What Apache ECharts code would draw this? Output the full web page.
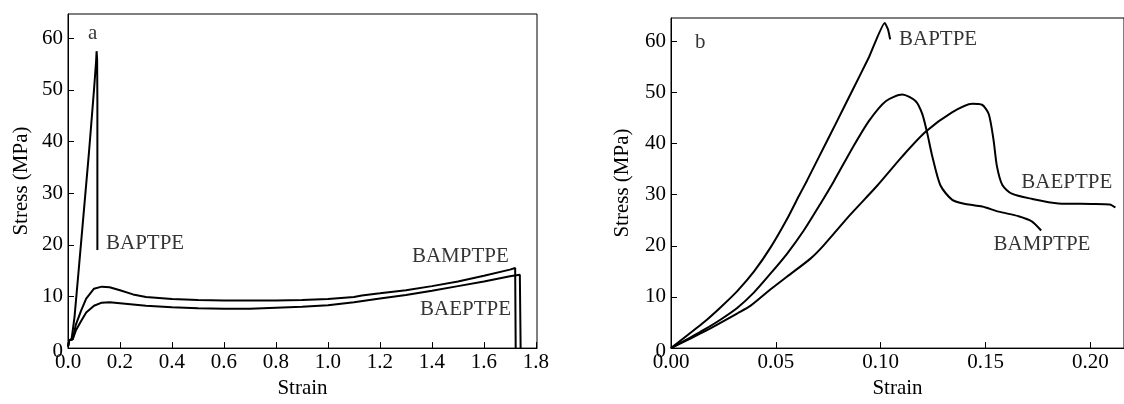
<!DOCTYPE html>
<html><head><meta charset="utf-8">
<script src="https://cdn.jsdelivr.net/npm/echarts@6/dist/echarts.min.js"></script>
<style>html,body{margin:0;padding:0;background:#fff}#c{width:1124px;height:404px}</style>
</head><body><div id="c"></div>
<script>
// ---- data (strain, stress MPa) ----
const aBAPTPE = [[0,0.3],[0.005,1.5],[0.014,1.8],[0.025,6],[0.04,14.5],[0.06,26],[0.08,37.5],[0.1,50],[0.108,55.5],[0.110,57.5],[0.112,56],[0.113,48],[0.113,19]];
const aBAMPTPE = [[0,0.3],[0.005,1.5],[0.018,1.7],[0.03,4.5],[0.05,7.2],[0.07,9.6],[0.1,11.5],[0.13,11.9],[0.16,11.8],[0.2,11.2],[0.25,10.4],[0.3,9.9],[0.4,9.5],[0.5,9.3],[0.6,9.2],[0.7,9.2],[0.8,9.2],[0.9,9.3],[1.0,9.5],[1.1,9.9],[1.13,10.2],[1.2,10.6],[1.3,11.2],[1.4,12.0],[1.5,12.9],[1.6,14.0],[1.7,15.2],[1.72,15.5],[1.722,15.3],[1.722,0]];
const aBAEPTPE = [[0,0.3],[0.005,1.5],[0.018,1.7],[0.03,3.4],[0.05,5.2],[0.07,6.9],[0.1,8.2],[0.13,8.8],[0.16,8.9],[0.2,8.7],[0.3,8.2],[0.4,7.9],[0.5,7.7],[0.6,7.6],[0.7,7.6],[0.8,7.8],[0.9,8.0],[1.0,8.3],[1.1,8.9],[1.2,9.6],[1.3,10.3],[1.4,11.1],[1.5,12.0],[1.6,12.9],[1.7,13.9],[1.738,14.2],[1.741,14.0],[1.741,0]];

const bBAPTPE = [[0,0],[0.0158,5.1],[0.0237,8.0],[0.0317,11.2],[0.0396,15.0],[0.0475,19.7],[0.0554,25.3],[0.0609,29.7],[0.0649,32.8],[0.0708,37.6],[0.0787,44.0],[0.0866,50.5],[0.0945,57.0],[0.1019,63.6],[0.1035,62.3],[0.1045,60.4]];
const bBAMPTPE = [[0,0],[0.008,1.8],[0.0158,3.6],[0.0237,5.6],[0.0317,7.9],[0.0396,10.9],[0.0475,14.6],[0.0554,18.5],[0.0633,23.0],[0.0712,28.2],[0.0776,32.6],[0.0866,39.2],[0.0945,44.5],[0.1024,48.3],[0.1103,49.6],[0.1167,48.3],[0.1198,45.8],[0.1222,42.0],[0.1246,37.5],[0.1285,31.8],[0.1341,29.0],[0.1404,28.2],[0.1484,27.7],[0.1562,26.7],[0.1657,25.8],[0.172,24.8],[0.1765,23.0]];
const bBAEPTPE = [[0,0],[0.008,1.6],[0.0158,3.2],[0.0317,6.8],[0.038,8.3],[0.0475,11.5],[0.0554,14.0],[0.0665,17.5],[0.0728,20.1],[0.0855,26.1],[0.0984,31.8],[0.1103,37.5],[0.1214,42.3],[0.134,46.1],[0.1436,47.8],[0.1483,47.6],[0.1515,45.8],[0.1538,40.7],[0.1554,35.6],[0.158,31.9],[0.1625,30.2],[0.172,29.2],[0.1847,28.3],[0.2005,28.2],[0.2092,28.1],[0.2119,27.5]];

const yTicks = [0,10,20,30,40,50,60];
const aXTicks = [0,0.2,0.4,0.6,0.8,1.0,1.2,1.4,1.6,1.8];
const bXTicks = [0,0.05,0.10,0.15,0.20];

const aLabels = [{name:'a',value:[0.077,61]},{name:'BAPTPE',value:[0.146,20.2]},{name:'BAMPTPE',value:[1.323,17.7]},{name:'BAEPTPE',value:[1.354,7.4]}];
const bLabels = [{name:'b',value:[0.0114,59.8]},{name:'BAPTPE',value:[0.1087,60.4]},{name:'BAEPTPE',value:[0.167,32.4]},{name:'BAMPTPE',value:[0.1538,20.2]}];

// ---- chart ----
const FONT = '"Liberation Serif", "Times New Roman", serif';
const TXT = {color:'#000', fontFamily:FONT, fontSize:21, fontWeight:'normal'};
function xAx(grid, max, ticks, dec){
  return {type:'value', gridIndex:grid, min:0, max:max,
    name:'Strain', nameLocation:'middle', nameGap:21, nameTextStyle:TXT,
    axisLine:{show:true, lineStyle:{color:'#000', width:1}},
    axisTick:{show:true, inside:true, length:6, customValues:ticks, lineStyle:{color:'#000'}},
    axisLabel:Object.assign({customValues:ticks, margin:4, formatter:v=>v.toFixed(dec)}, TXT),
    splitLine:{show:false}};
}
function yAx(grid, max, gap){
  return {type:'value', gridIndex:grid, min:0, max:max,
    name:'Stress (MPa)', nameLocation:'middle', nameGap:gap, nameTextStyle:TXT,
    axisLine:{show:true, lineStyle:{color:'#000', width:1}},
    axisTick:{show:true, inside:true, length:6, customValues:yTicks, lineStyle:{color:'#000'}},
    axisLabel:Object.assign({customValues:yTicks, margin:5,
      formatter:v=> v===0 ? '{z|0}' : String(v),
      rich:{z:{color:'#000', fontFamily:FONT, fontSize:21, padding:[6,0,0,0]}}}, TXT),
    splitLine:{show:false}};
}
function line(data, xi, smooth){
  return {type:'line', xAxisIndex:xi, yAxisIndex:xi, data:data, symbol:'none', smooth:smooth,
    lineStyle:{color:'#000', width:2}, silent:true, animation:false, clip:true};
}
function labels(data, xi){
  return {type:'scatter', xAxisIndex:xi, yAxisIndex:xi, data:data, symbolSize:0, silent:true, animation:false,
    label:Object.assign({show:true, position:'right', distance:0, formatter:'{b}'}, TXT)};
}
const chart = echarts.init(document.getElementById('c'), null, {renderer:'canvas'});
chart.setOption({
  animation:false,
  backgroundColor:'#fff',
  textStyle:{fontFamily:FONT, color:'#000'},
  grid:[
    {left:68, top:14, width:469, height:343, show:true, borderColor:'#000', borderWidth:1, backgroundColor:'transparent'},
    {left:671, top:18, width:455, height:339, show:true, borderColor:'#000', borderWidth:1, backgroundColor:'transparent'}
  ],
  xAxis:[xAx(0, 1.804, aXTicks, 1), xAx(1, 0.216, bXTicks, 2)],
  yAxis:[yAx(0, 64.7, 36), yAx(1, 64.57, 38)],
  series:[
    line(aBAPTPE,0,false), line(aBAMPTPE,0,false), line(aBAEPTPE,0,false),
    line(bBAPTPE,1,0.15), line(bBAMPTPE,1,0.25), line(bBAEPTPE,1,0.25),
    labels(aLabels,0), labels(bLabels,1)
  ]
});
</script></body></html>
